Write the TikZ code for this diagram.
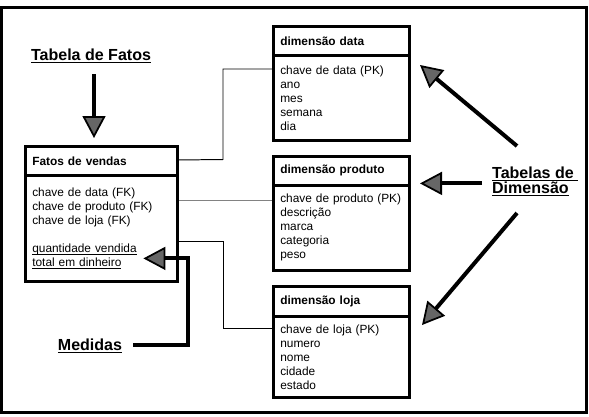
\documentclass[tikz,border=0pt]{standalone}
\usepackage{fontspec}
\setmainfont{Liberation Sans}
\usepackage{tikz}
\usetikzlibrary{arrows.meta}
\pgfdeclarelayer{edgelayer}
\pgfdeclarelayer{nodelayer}
\pgfsetlayers{edgelayer,nodelayer,main}
\newcommand{\undertext}[1]{\leavevmode\setbox0=\hbox{#1}\rlap{\vrule height -0.1em depth 0.18em width \wd0}\box0}
\definecolor{headgray}{RGB}{102,102,102}
\definecolor{linkgray}{RGB}{130,130,130}
\tikzstyle{none}=[inner sep=0pt]
\tikzstyle{frame}=[draw=black,line width=0.15cm]
\tikzstyle{tablehead}=[rectangle,draw=black,line width=0.13cm,anchor=north west,minimum height=1.45cm,inner xsep=0.35cm,text width=6.1cm,align=left,font=\fontsize{16.9}{19.9}\selectfont\bfseries]
\tikzstyle{tablebody}=[rectangle,draw=black,line width=0.13cm,anchor=north west,inner xsep=0.35cm,text width=6.1cm,align=left,font=\fontsize{16.9}{19.9}\selectfont]
\tikzstyle{label}=[inner sep=0pt,align=left,font=\fontsize{22.8}{21.3}\selectfont\bfseries]
\tikzstyle{link}=[-,draw=black,line width=1.4pt]
\tikzstyle{pointer}=[-{Triangle[length=1.1cm,width=1.15cm,fill=headgray,line width=2.5pt]},draw=black,line width=0.2cm,line join=miter]

\begin{document}
\begin{tikzpicture}
	\useasboundingbox (0, 0) rectangle (29.45, -20.8);
	\begin{pgfonlayer}{nodelayer}
		\node [style=tablehead, text width=6.9cm] (0) at (1.2, -7.25) {Fatos de vendas};
		\node [style=tablebody, text width=6.9cm, minimum height=5.3cm] (1) at (1.2, -8.7) {chave de data (FK)\\chave de produto (FK)\\chave de loja (FK)\\[0.7cm]\undertext{quantidade vendida}\\\undertext{total em dinheiro}};
		\node [style=tablehead] (2) at (13.6, -1.25) {dimensão data};
		\node [style=tablebody, minimum height=4.25cm] (3) at (13.6, -2.7) {chave de data (PK)\\ano\\mes\\semana\\dia};
		\node [style=tablehead] (4) at (13.6, -7.75) {dimensão produto};
		\node [style=tablebody, minimum height=4.25cm] (5) at (13.6, -9.2) {chave de produto (PK)\\descrição\\marca\\categoria\\peso};
		\node [style=tablehead, minimum height=1.5cm] (6) at (13.6, -14.25) {dimensão loja};
		\node [style=tablebody, minimum height=4.05cm] (7) at (13.6, -15.75) {chave de loja (PK)\\numero\\nome\\cidade\\estado};
		\node [style=label, anchor=base] (8) at (4.55, -3.0) {\undertext{Tabela de Fatos}};
		\node [style=label, anchor=base] (9) at (4.5, -17.5) {\undertext{Medidas}};
		\node [style=label, anchor=north west] (10) at (24.6, -8.33) {\undertext{Tabelas de\ }\\\undertext{Dimensão}};
		\node [style=none] (11) at (11.15, -7.975) {};
		\node [style=none] (12) at (11.15, -3.45) {};
		\node [style=none] (13) at (11.15, -10) {};
		\node [style=none] (14) at (11.15, -12.05) {};
		\node [style=none] (15) at (11.15, -16.4) {};
		\node [style=none] (16) at (4.7, -3.7) {};
		\node [style=none] (17) at (4.7, -6.9) {};
		\node [style=none] (18) at (6.67, -17.27) {};
		\node [style=none] (19) at (9.42, -17.27) {};
		\node [style=none] (20) at (9.42, -12.92) {};
		\node [style=none] (21) at (7.17, -12.92) {};
		\node [style=none] (22) at (25.85, -7.3) {};
		\node [style=none] (23) at (21.0, -3.25) {};
		\node [style=none] (24) at (24.1, -9.17) {};
		\node [style=none] (25) at (21.0, -9.17) {};
		\node [style=none] (26) at (25.85, -10.65) {};
		\node [style=none] (27) at (21.1, -16.25) {};
	\end{pgfonlayer}
	\begin{pgfonlayer}{edgelayer}
		\draw [style=frame] (0.085, -0.35) rectangle (29.325, -20.6);
		\draw [style=link] (0) to (11.center) to (12.center) to (12.center -| 3.west);
		\draw [style=link, draw=linkgray] (13.center -| 1.east) to (13.center -| 5.west);
		\draw [style=link] (14.center -| 1.east) to (14.center) to (15.center) to (15.center -| 7.west);
		\draw [style=pointer] (16.center) to (17.center);
		\draw [style=pointer] (18.center) -- (19.center) -- (20.center) -- (21.center);
		\draw [style=pointer] (22.center) to (23.center);
		\draw [style=pointer] (24.center) to (25.center);
		\draw [style=pointer] (26.center) to (27.center);
	\end{pgfonlayer}
\end{tikzpicture}
\end{document}
